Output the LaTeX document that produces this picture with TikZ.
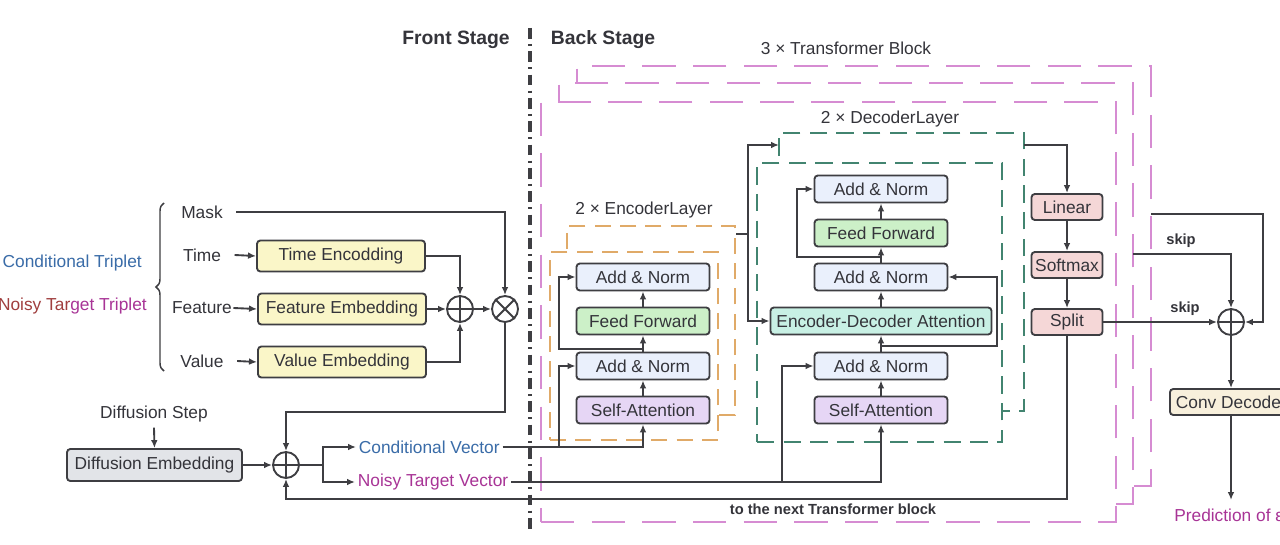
\documentclass[tikz,border=0pt]{standalone}
\usepackage{fontspec}
\setmainfont{Liberation Sans}
\usetikzlibrary{arrows.meta,fit,decorations.pathreplacing,calc}
\definecolor{linec}{RGB}{62,62,66}
\definecolor{txtc}{RGB}{52,52,58}
\definecolor{bluet}{RGB}{58,108,168}
\definecolor{magt}{RGB}{168,52,150}
\definecolor{redt}{RGB}{160,62,62}
\definecolor{pinkd}{RGB}{214,140,210}
\definecolor{orad}{RGB}{224,170,104}
\definecolor{teald}{RGB}{66,132,112}
\definecolor{yelf}{RGB}{250,246,200}
\definecolor{grayf}{RGB}{226,228,232}
\definecolor{anf}{RGB}{234,240,252}
\definecolor{fff}{RGB}{204,240,200}
\definecolor{saf}{RGB}{230,214,245}
\definecolor{edaf}{RGB}{200,240,228}
\definecolor{pinkf}{RGB}{245,215,215}
\definecolor{convf}{RGB}{248,240,220}
\begin{document}
\begin{tikzpicture}[x=0.75pt,y=-0.75pt,
  mfont/.style={font=\fontsize{13}{15}\selectfont},
  line/.style={draw=linec, line width=1.4pt},
  arr/.style={line, -{Latex[length=6pt,width=5pt]}},
  box/.style={draw=linec, line width=1.4pt, rounded corners=2.5pt, inner sep=0pt, text=txtc, mfont},
  ybox/.style={box, fill=yelf, minimum width=126pt, minimum height=23.25pt},
  eblk/.style={box, minimum width=99.75pt, minimum height=20.25pt},
  anbox/.style={eblk, fill=anf},
  ffbox/.style={eblk, fill=fff},
  sabox/.style={eblk, fill=saf},
  pbox/.style={box, fill=pinkf, minimum width=53.25pt, minimum height=19.5pt},
  txt/.style={inner sep=1pt, text=txtc, mfont},
  btxt/.style={inner sep=1pt, text=txtc, font=\fontsize{14.5}{17}\selectfont\bfseries},
  stxt/.style={inner sep=1pt, text=txtc, font=\fontsize{11}{13}\selectfont\bfseries},
  opc/.style={circle, draw=linec, line width=1.4pt, minimum size=19.5pt, inner sep=0pt},
  pinkbox/.style={draw=pinkd, line width=1.5pt, fill=white, dash pattern=on 25pt off 13pt, inner sep=0pt},
  orabox/.style={draw=orad, line width=1.5pt, fill=white, dash pattern=on 12pt off 7pt, inner sep=0pt},
  tealbox/.style={draw=teald, line width=1.5pt, fill=white, dash pattern=on 13pt off 7pt, inner sep=0pt}
]
\fill[white] (0,0) rectangle (1280,545);
\useasboundingbox (0,0) rectangle (1280,545);

% transformer blocks
\node[pinkbox, fit={(577,66) (1151,486)}] (pinkC) {};
\node[pinkbox, fit={(559,83) (1133,504)}] (pinkB) {};
\node[pinkbox, fit={(541,102) (1116,522)}] (pinkA) {};
% encoder / decoder layers
\node[orabox, fit={(567,226) (735,415)}] (encB) {};
\node[orabox, fit={(550,252) (718,440)}] (encA) {};
\node[tealbox, fit={(779,133) (1024,411)}] (decB) {};
\node[tealbox, fit={(757,163) (1002,442)}] (decA) {};

% stage separator
\coordinate (sepT) at (530,28);
\coordinate (sepB) at (530,530);
\draw[draw=linec, line width=2.3pt, dash pattern=on 8pt off 4pt on 1.5pt off 4pt] (sepT) -- (sepB);
\node[btxt] (front) at (456,40) {Front Stage};
\node[btxt] (back) at (603,40) {Back Stage};
\node[txt] (tblab) at (846,48) {3 × Transformer Block};
\node[txt] (enclab) at (644,210) {2 × EncoderLayer};
\node[txt] (declab) at (890,119) {2 × DecoderLayer};

% left inputs
\node[inner sep=0pt, anchor=east, mfont, text=bluet] (ctrip) at (142,263) {Conditional Triplet};
\node[inner sep=0pt, anchor=east, mfont] (ntrip) at (147,306) {\textcolor{redt}{Noisy Tar}\textcolor{magt}{get Triplet}};
\draw[decorate, decoration={brace, amplitude=6pt}, draw=linec, line width=1.1pt] (164,371) -- (164,203);
\node[txt] (maskL) at (202,212) {Mask};
\node[txt] (timeL) at (202,255) {Time};
\node[txt] (featL) at (202,308) {Feature};
\node[txt] (valL) at (202,361) {Value};

\node[ybox] (time) at (341,256) {Time Encodding};
\node[ybox] (feat) at (342,309) {Feature Embedding};
\node[ybox] (val) at (342,362) {Value Embedding};
\node[opc] (plus1) at (460,309) {};
\node[opc] (times1) at (505,309) {};
\draw[line] (plus1.north) -- (plus1.south) (plus1.west) -- (plus1.east);
\draw[line] (times1.north east) -- (times1.south west) (times1.north west) -- (times1.south east);

\draw[arr] ([xshift=9pt]maskL.east) -| (times1.north);
\draw[arr] ([xshift=9pt]timeL.east) -- (time.west);
\draw[arr] (featL.east) -- (feat.west);
\draw[arr] ([xshift=9pt]valL.east) -- (val.west);
\draw[arr] (time.east) -| (plus1.north);
\draw[arr] (feat.east) -- (plus1.west);
\draw[arr] (val.east) -| (plus1.south);
\draw[arr] (plus1.east) -- (times1.west);

% diffusion
\node[txt] (dstep) at (154,414) {Diffusion Step};
\node[box, fill=grayf, minimum width=131.25pt, minimum height=24pt] (diff) at (154.5,465) {Diffusion Embedding};
\node[opc] (plus2) at (286,465) {};
\draw[line] (plus2.north) -- (plus2.south) (plus2.west) -- (plus2.east);
\draw[arr] ([yshift=-3pt]dstep.south) -- (diff.north);
\draw[arr] (diff.east) -- (plus2.west);
\coordinate (r1) at (505,412);
\draw[arr] (times1.south) -- (r1) -| (plus2.north);
\coordinate (br) at (323,465);
\node[inner sep=2pt, anchor=west, mfont, text=bluet] (condV) at (356,447) {Conditional Vector};
\node[inner sep=2pt, anchor=west, mfont, text=magt] (noisyV) at (355,482) {Noisy Target Vector};
\draw[line] (plus2.east) -- (br);
\draw[arr] (br) |- (condV.west);
\draw[arr] (br) |- (noisyV.west);

% encoder
\node[anbox] (eAN1) at (643,277) {Add \& Norm};
\node[ffbox] (eFF) at (643,321) {Feed Forward};
\node[anbox] (eAN2) at (643,366) {Add \& Norm};
\node[sabox] (eSA) at (643,410) {Self-Attention};
\draw[arr] (eSA.north) -- (eAN2.south);
\draw[arr] (eAN2.north) -- (eFF.south);
\draw[arr] (eFF.north) -- (eAN1.south);
\coordinate (er) at (643,349);
\draw[arr] (er) -- (559,349) |- (eAN1.west);
\draw[arr] (condV.east) -| (eSA.south);
\coordinate (c1) at (559,447);
\draw[arr] (c1) |- (eAN2.west);

% decoder
\node[anbox] (dAN1) at (881,189) {Add \& Norm};
\node[ffbox] (dFF) at (881,233) {Feed Forward};
\node[anbox] (dAN2) at (881,277) {Add \& Norm};
\node[box, fill=edaf, minimum width=165.75pt, minimum height=20.25pt] (dEDA) at (881,321) {Encoder-Decoder Attention};
\node[anbox] (dAN3) at (881,366) {Add \& Norm};
\node[sabox] (dSA) at (881,410) {Self-Attention};
\draw[arr] (dSA.north) -- (dAN3.south);
\draw[arr] (dAN3.north) -- (dEDA.south);
\draw[arr] (dEDA.north) -- (dAN2.south);
\draw[arr] (dAN2.north) -- (dFF.south);
\draw[arr] (dFF.north) -- (dAN1.south);
\coordinate (dr1) at (881,257);
\draw[arr] (dr1) -- (797,257) |- (dAN1.west);
\coordinate (dr2) at (881,346);
\draw[arr] (dr2) -- (997,346) |- (dAN2.east);
\draw[arr] (noisyV.east) -| (dSA.south);
\coordinate (n1) at (782,482);
\draw[arr] (n1) |- (dAN3.west);

% encoder output
\coordinate (eo) at (748,234);
\coordinate (d1) at (779,145);
\draw[line] (encB.east |- eo) -- (eo);
\draw[arr] (eo) |- (d1);
\draw[arr] (eo) |- (dEDA.west);

% head
\node[pbox] (lin) at (1067,207) {Linear};
\node[pbox] (soft) at (1067,265) {Softmax};
\node[pbox] (split) at (1067,322) {Split};
\coordinate (do) at (1024,145);
\draw[arr] (do) -| (lin.north);
\draw[arr] (lin.south) -- (soft.north);
\draw[arr] (soft.south) -- (split.north);

\node[opc] (plus3) at (1231,322) {};
\draw[line] (plus3.north) -- (plus3.south) (plus3.west) -- (plus3.east);
\draw[arr] (split.east) -- (plus3.west);
\node[stxt] (skip1) at (1185,309) {skip};
\coordinate (s2) at (1133,254);
\draw[arr] (s2) -| (plus3.north);
\node[stxt] (skip2) at (1181,241) {skip};
\coordinate (s3) at (1151,214);
\coordinate (s3b) at (1263,322);
\draw[arr] (s3) -| (s3b) -- (plus3.east);

\coordinate (rb) at (1067,499);
\draw[arr] (split.south) -- (rb) -| (plus2.south);
\node[stxt] (nextlab) at (833,509) {to the next Transformer block};

\node[box, fill=convf, minimum height=19.5pt, inner xsep=4.5pt, anchor=west] (conv) at (1169,402) {Conv Decoder};
\draw[arr] (plus3.south) -- (plus3.south |- conv.north);
\coordinate (po) at (1231,500);
\draw[arr] (po |- conv.south) -- (po);
\node[inner sep=0pt, anchor=west, mfont, text=magt] (pred) at (1174,515) {Prediction of ε};
\end{tikzpicture}
\end{document}
